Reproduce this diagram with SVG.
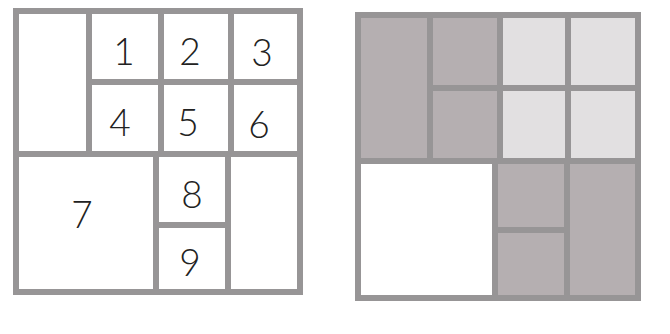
<svg xmlns="http://www.w3.org/2000/svg" width="670" height="334" viewBox="0 0 670 334">
<style>
.c{stroke:#979596;stroke-width:6;stroke-linejoin:miter}
.w{fill:#ffffff}
.d{fill:#b5afb1}
.l{fill:#e2e0e1}
.t{font-family:"Lato","Liberation Sans",sans-serif;font-weight:300;font-size:37px;fill:#222222;text-anchor:middle}
</style>
<rect width="670" height="334" fill="#ffffff"/>
<g id="left-grid">
<g id="L-A"><rect class="c w" x="16" y="11" width="73" height="143"/></g>
<g id="L-1"><rect class="c w" x="89" y="11" width="72" height="71"/><text class="t" x="124" y="65">1</text></g>
<g id="L-2"><rect class="c w" x="161" y="11" width="70" height="71"/><text class="t" x="190" y="65">2</text></g>
<g id="L-3"><rect class="c w" x="231" y="11" width="69" height="71"/><text class="t" x="262" y="66">3</text></g>
<g id="L-4"><rect class="c w" x="89" y="82" width="72" height="72"/><text class="t" x="120" y="136">4</text></g>
<g id="L-5"><rect class="c w" x="161" y="82" width="70" height="72"/><text class="t" x="188" y="136">5</text></g>
<g id="L-6"><rect class="c w" x="231" y="82" width="69" height="72"/><text class="t" x="259" y="138">6</text></g>
<g id="L-7"><rect class="c w" x="16" y="154" width="140" height="138"/><text class="t" x="82" y="228">7</text></g>
<g id="L-8"><rect class="c w" x="156" y="154" width="72" height="71"/><text class="t" x="192" y="208">8</text></g>
<g id="L-9"><rect class="c w" x="156" y="225" width="72" height="67"/><text class="t" x="190" y="276">9</text></g>
<g id="L-B"><rect class="c w" x="228" y="154" width="72" height="138"/></g>
</g>
<g id="right-grid">
<g id="R-A"><rect class="c d" x="358" y="15" width="72" height="146"/></g>
<g id="R-1"><rect class="c d" x="430" y="15" width="70" height="73"/></g>
<g id="R-2"><rect class="c l" x="500" y="15" width="68" height="73"/></g>
<g id="R-3"><rect class="c l" x="568" y="15" width="70" height="73"/></g>
<g id="R-4"><rect class="c d" x="430" y="88" width="70" height="73"/></g>
<g id="R-5"><rect class="c l" x="500" y="88" width="68" height="73"/></g>
<g id="R-6"><rect class="c l" x="568" y="88" width="70" height="73"/></g>
<g id="R-7"><rect class="c w" x="358" y="161" width="137" height="137"/></g>
<g id="R-8"><rect class="c d" x="495" y="161" width="72" height="69"/></g>
<g id="R-9"><rect class="c d" x="495" y="230" width="72" height="68"/></g>
<g id="R-B"><rect class="c d" x="567" y="161" width="71" height="137"/></g>
</g>
<g id="connectors"></g>
</svg>
